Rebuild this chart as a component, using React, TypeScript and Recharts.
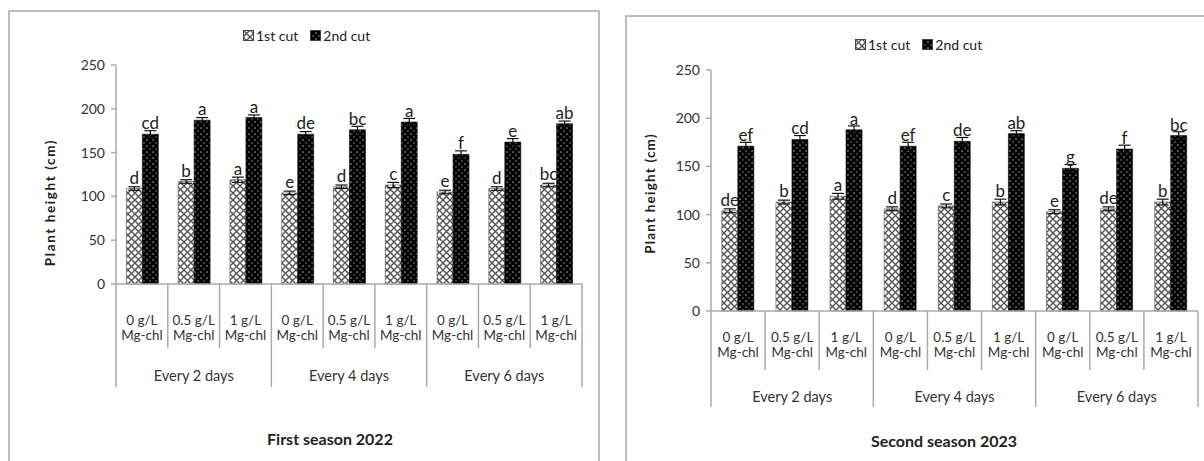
import React from "react"
import { BarChart, Bar, XAxis, YAxis, ErrorBar, LabelList } from "recharts"

// x-axis labels
const doseLabels = ["0 g/L", "0.5 g/L", "1 g/L", "0 g/L", "0.5 g/L", "1 g/L", "0 g/L", "0.5 g/L", "1 g/L"]
const unitLabels = ["Mg-chl", "Mg-chl", "Mg-chl", "Mg-chl", "Mg-chl", "Mg-chl", "Mg-chl", "Mg-chl", "Mg-chl"]
const groupLabels = ["Every 2 days", "Every 4 days", "Every 6 days"]
const yTicks = [0, 50, 100, 150, 200, 250]

// first season 2022
const cut1_2022 = [109, 117, 119, 104, 111, 113, 105, 109, 113]
const cut2_2022 = [171, 187, 190, 171, 176, 185, 148, 162, 183]
const err1_2022 = [2, 2, 3, 2, 2, 3, 2, 2, 2]
const err2_2022 = [4, 3, 3, 3, 4, 4, 4, 4, 3]
const let1_2022 = ["d", "b", "a", "e", "d", "c", "e", "d", "bc"]
const let2_2022 = ["cd", "a", "a", "de", "bc", "a", "f", "e", "ab"]

// second season 2023
const cut1_2023 = [104, 113, 119, 106, 109, 113, 103, 106, 113]
const cut2_2023 = [171, 178, 188, 171, 176, 184, 148, 168, 182]
const err1_2023 = [2, 2, 3, 2, 2, 3, 2, 2, 3]
const err2_2023 = [4, 4, 4, 4, 4, 3, 4, 4, 4]
const let1_2023 = ["de", "b", "a", "d", "c", "b", "e", "de", "b"]
const let2_2023 = ["ef", "cd", "a", "ef", "de", "ab", "g", "f", "bc"]

const FONT = "Lato, 'Open Sans', sans-serif"
const GRID = "#aaa"

const buildRows = (c1, c2, e1, e2, l1, l2) =>
  doseLabels.map((_, i) => ({ key: String(i), c1: c1[i], c2: c2[i], e1: e1[i], e2: e2[i], l1: l1[i], l2: l2[i] }))

function CatTick(props) {
  const { x, y, payload, half, t } = props
  const i = payload.index ?? props.index
  const last = doseLabels.length - 1
  const lineProps = { stroke: GRID, strokeWidth: 1.5 }
  return (
    <g>
      <line x1={x - half} y1={y} x2={x - half} y2={y + (i % 3 === 0 ? t.long : t.short)} {...lineProps} />
      {i === last && <line x1={x + half} y1={y} x2={x + half} y2={y + t.long} {...lineProps} />}
      <text x={x} y={y + t.l1} textAnchor="middle" dominantBaseline="central" fontSize={13.5} fill="#333" fontFamily={FONT}>
        {doseLabels[i]}
      </text>
      <text x={x} y={y + t.l2} textAnchor="middle" dominantBaseline="central" fontSize={13.5} fill="#333" fontFamily={FONT}>
        {unitLabels[i]}
      </text>
      {i % 3 === 1 && (
        <text x={x} y={y + t.grp} textAnchor="middle" dominantBaseline="central" fontSize={14.5} fill="#333" fontFamily={FONT}>
          {groupLabels[(i - 1) / 3]}
        </text>
      )}
    </g>
  )
}

function YTitle(props) {
  const { viewBox, shift, spacing } = props
  const cx = viewBox.x + 9
  const cy = viewBox.y + viewBox.height / 2 + shift
  return (
    <text x={cx} y={cy} transform={`rotate(-90 ${cx} ${cy})`} textAnchor="middle" dominantBaseline="central"
      fontSize={13.5} fontWeight="bold" fill="#222" fontFamily={FONT} letterSpacing={spacing}>
      Plant height (cm)
    </text>
  )
}

function Swatch({ fill }) {
  return (
    <svg width={11} height={11} style={{ marginRight: 2 }}>
      <rect x={0.5} y={0.5} width={10} height={10} fill={fill} stroke="#444" strokeWidth={1} />
    </svg>
  )
}

function LegendBox({ left, top }) {
  return (
    <div style={{ position: "absolute", left, top, display: "flex", alignItems: "center", fontFamily: FONT, fontSize: 14, color: "#222", whiteSpace: "nowrap" }}>
      <Swatch fill="url(#hatchLight)" />
      <span style={{ marginRight: 12 }}>1st cut</span>
      <Swatch fill="url(#hatchDark)" />
      <span>2nd cut</span>
    </div>
  )
}

function SeasonChart({ rows, width, height, margin, yWidth, xHeight, tickOffsets, titleShift, titleSpacing }) {
  const plotW = width - margin.left - margin.right - yWidth
  const half = plotW / doseLabels.length / 2
  const letterStyle = { fontSize: 17, fill: "#222", fontFamily: FONT }
  return (
    <BarChart width={width} height={height} data={rows} margin={margin} barCategoryGap="20%" barGap={0} style={{ fontFamily: FONT }}>
      <XAxis
        dataKey="key"
        interval={0}
        height={xHeight}
        tickSize={0}
        tickMargin={0}
        tickLine={false}
        axisLine={{ stroke: GRID, strokeWidth: 1.5 }}
        tick={(p) => <CatTick {...p} half={half} t={tickOffsets} />}
      />
      <YAxis
        domain={[0, 250]}
        ticks={yTicks}
        width={yWidth}
        tickSize={5}
        tickMargin={6}
        axisLine={{ stroke: GRID, strokeWidth: 1.5 }}
        tickLine={{ stroke: GRID, strokeWidth: 1.5 }}
        tick={{ fontSize: 14, fill: "#333", fontFamily: FONT }}
        label={<YTitle shift={titleShift} spacing={titleSpacing} />}
      />
      <Bar dataKey="c1" fill="url(#hatchLight)" stroke="#555" strokeWidth={0.6} isAnimationActive={false}>
        <ErrorBar dataKey="e1" width={6} stroke="#111" strokeWidth={1.2} />
        <LabelList dataKey="l1" position="top" offset={5} style={letterStyle} />
      </Bar>
      <Bar dataKey="c2" fill="url(#hatchDark)" stroke="#111" strokeWidth={0.6} isAnimationActive={false}>
        <ErrorBar dataKey="e2" width={6} stroke="#111" strokeWidth={1.2} />
        <LabelList dataKey="l2" position="top" offset={5} style={letterStyle} />
      </Bar>
    </BarChart>
  )
}

export default function App() {
  const rows2022 = buildRows(cut1_2022, cut2_2022, err1_2022, err2_2022, let1_2022, let2_2022)
  const rows2023 = buildRows(cut1_2023, cut2_2023, err1_2023, err2_2023, let1_2023, let2_2023)
  const boxStyle = { position: "absolute", border: "2px solid #bdbdbd", boxSizing: "border-box", height: 480 } as React.CSSProperties
  const titleStyle = { position: "absolute", fontFamily: FONT, fontSize: 16, fontWeight: "bold", color: "#222", transform: "translate(-50%, -50%)", whiteSpace: "nowrap" } as React.CSSProperties

  return (
    <div style={{ position: "absolute", left: 0, top: 0, width: 1204, height: 461, overflow: "hidden", background: "#fff" }}>
      <svg width={0} height={0} style={{ position: "absolute" }}>
        <defs>
          <pattern id="hatchLight" patternUnits="userSpaceOnUse" width={7} height={7}>
            <rect width={7} height={7} fill="#fff" />
            <path d="M0,0 L7,7 M7,0 L0,7" stroke="#555" strokeWidth={1.4} />
          </pattern>
          <pattern id="hatchDark" patternUnits="userSpaceOnUse" width={6} height={6}>
            <rect width={6} height={6} fill="#fff" />
            <path d="M0,0 L6,6 M6,0 L0,6" stroke="#000" strokeWidth={3.2} />
          </pattern>
        </defs>
      </svg>

      <div style={{ ...boxStyle, left: 8, top: 10, width: 592 }} />
      <div style={{ ...boxStyle, left: 625, top: 15, width: 600 }} />

      <div style={{ position: "absolute", left: 9, top: 11 }}>
        <SeasonChart
          rows={rows2022}
          width={590}
          height={450}
          margin={{ top: 54, right: 17, left: 32, bottom: 67 }}
          yWidth={75}
          xHeight={110}
          tickOffsets={{ l1: 36, l2: 51, grp: 91, short: 64, long: 103 }}
          titleShift={28}
          titleSpacing={1.6}
        />
      </div>
      <div style={{ position: "absolute", left: 626, top: 16 }}>
        <SeasonChart
          rows={rows2023}
          width={578}
          height={445}
          margin={{ top: 54, right: 6, left: 15, bottom: 40 }}
          yWidth={70}
          xHeight={110}
          tickOffsets={{ l1: 26, l2: 41, grp: 85, short: 59, long: 96 }}
          titleShift={3}
          titleSpacing={1.2}
        />
      </div>

      <LegendBox left={243} top={27} />
      <LegendBox left={855} top={36} />

      <div style={{ ...titleStyle, left: 330, top: 438 }}>First season 2022</div>
      <div style={{ ...titleStyle, left: 944, top: 440 }}>Second season 2023</div>
    </div>
  )
}
